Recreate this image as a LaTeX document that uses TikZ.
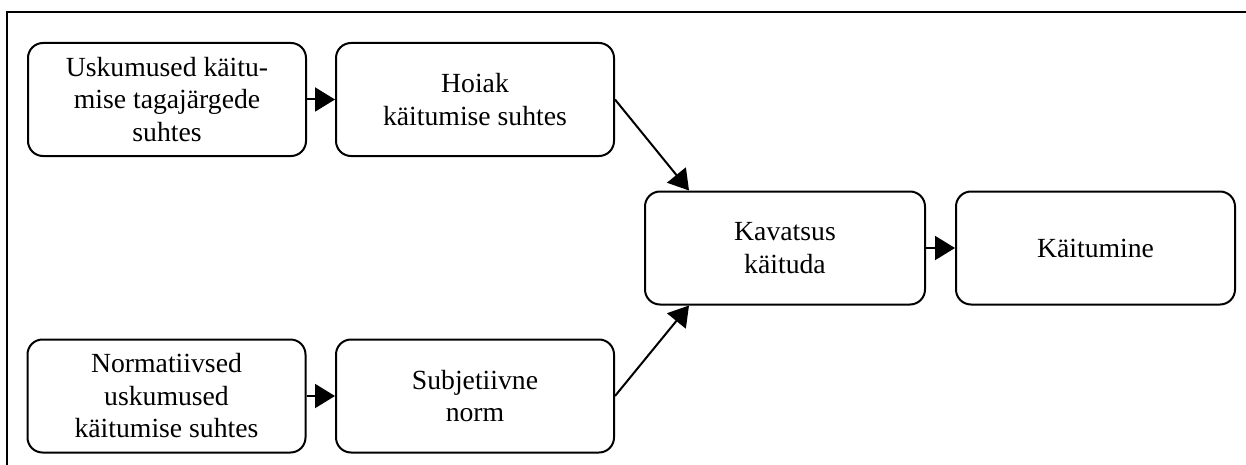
\documentclass[tikz,border=0pt]{standalone}
\usepackage{fontspec}
\setmainfont{Liberation Serif}
\usetikzlibrary{arrows.meta}
\tikzset{
  box/.style={draw, line width=1pt, rounded corners=7.5pt, align=center, inner sep=0pt,
    minimum width=139pt, minimum height=56.5pt, font=\fontsize{13.85}{16.25}\selectfont},
  conn/.style={line width=1pt, -{Triangle[length=10pt,width=12pt]}},
  frame/.style={line width=1pt}
}
\begin{document}
\begin{tikzpicture}[x=0.5pt,y=-0.5pt]
\useasboundingbox (0,0) rectangle (1246,465);
\coordinate (fbl) at (7,466);
\coordinate (ftl) at (7,12.5);
\coordinate (ftr) at (1247,12.5);
\draw[frame] (fbl) -- (ftl) -- (ftr);
\node[box] (b1) at (167,99.5) {Uskumused käitu-\\mise tagajärgede\\suhtes};
\node[box] (b2) at (475,99.5) {Hoiak\\käitumise suhtes};
\node[box] (b3) at (166.5,396) {Normatiivsed\\uskumused\\käitumise suhtes};
\node[box] (b4) at (475,396) {Subjetiivne\\norm};
\node[box, minimum width=140pt] (k) at (785,248) {Kavatsus\\käituda};
\node[box, minimum width=139.5pt] (kt) at (1095.5,248) {Käitumine};
\draw[conn] (b1.east) -- (b2.west);
\draw[conn] (b3.east) -- (b4.west);
\draw[conn] (k.east) -- (kt.west);
\draw[conn] (b2.east) -- ([xshift=22.5pt]k.north west);
\draw[conn] (b4.east) -- ([xshift=22.5pt]k.south west);
\end{tikzpicture}
\end{document}
